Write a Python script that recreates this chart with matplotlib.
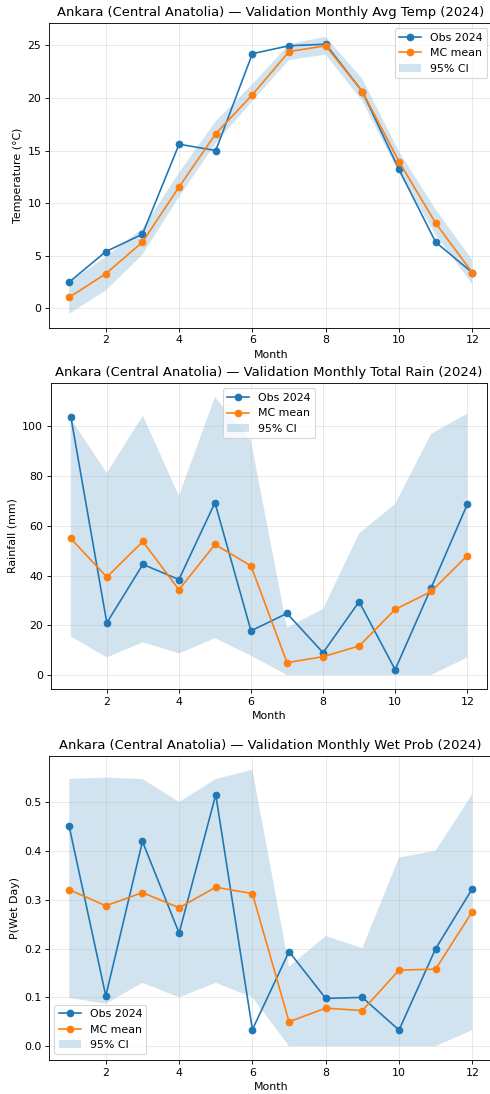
import numpy as np
import matplotlib
matplotlib.use("Agg")
import matplotlib.pyplot as plt

STATION = "Ankara (Central Anatolia)"
months = np.arange(1, 13)

# monthly average temperature (C)
temp_obs = [2.5, 5.4, 7.05, 15.6, 15.0, 24.2, 24.95, 25.1, 20.6, 13.2, 6.3, 3.4]
temp_mc = [1.05, 3.3, 6.3, 11.55, 16.6, 20.3, 24.4, 24.95, 20.6, 13.95, 8.1, 3.4]
temp_lo = [-0.5, 1.7, 5.1, 10.6, 15.7, 19.7, 23.6, 24.1, 19.7, 12.9, 7.0, 2.3]
temp_hi = [2.5, 4.9, 7.6, 12.9, 17.8, 21.3, 25.1, 25.8, 21.8, 14.9, 9.4, 4.6]

# monthly total rainfall (mm)
rain_obs = [103.9, 21.0, 44.5, 38.4, 69.3, 17.8, 24.8, 9.0, 29.5, 2.2, 35.1, 68.6]
rain_mc = [54.9, 39.4, 53.7, 34.3, 52.5, 43.9, 5.0, 7.4, 11.7, 26.4, 33.6, 48.0]
rain_lo = [15.5, 7.1, 13.2, 8.7, 14.8, 7.8, 0.0, 0.0, 0.0, 0.0, 0.0, 7.1]
rain_hi = [103.0, 81.2, 104.3, 72.0, 111.8, 94.0, 19.0, 26.6, 56.9, 68.8, 97.0, 105.1]

# probability of a wet day
wet_obs = [0.451, 0.103, 0.420, 0.232, 0.516, 0.034, 0.194, 0.098, 0.100, 0.033, 0.200, 0.323]
wet_mc = [0.321, 0.288, 0.315, 0.284, 0.326, 0.313, 0.050, 0.078, 0.073, 0.156, 0.158, 0.276]
wet_lo = [0.099, 0.087, 0.130, 0.100, 0.130, 0.100, 0.0, 0.0, 0.0, 0.0, 0.0, 0.033]
wet_hi = [0.548, 0.551, 0.548, 0.501, 0.548, 0.567, 0.163, 0.226, 0.201, 0.387, 0.401, 0.517]

panels = [
    ("Avg Temp", "Temperature (°C)", temp_obs, temp_mc, temp_lo, temp_hi, "upper right"),
    ("Total Rain", "Rainfall (mm)", rain_obs, rain_mc, rain_lo, rain_hi, "upper center"),
    ("Wet Prob", "P(Wet Day)", wet_obs, wet_mc, wet_lo, wet_hi, "lower left"),
]

# axes rectangles [left, bottom, width, height] in figure fractions
rects = [
    [0.100, 0.7006, 0.905, 0.2784],
    [0.104, 0.3702, 0.890, 0.2797],
    [0.100, 0.0311, 0.905, 0.2779],
]

DPI = 79
fig, axes = plt.subplots(3, 1, figsize=(490 / DPI, 1094 / DPI), dpi=DPI)
for ax, rect, (name, ylab, obs, mc, lo, hi, loc) in zip(axes, rects, panels):
    ax.set_position(rect)
    ax.plot(months, obs, marker="o", label="Obs 2024")
    ax.plot(months, mc, marker="o", label="MC mean")
    ax.fill_between(months, lo, hi, alpha=0.2, label="95% CI")
    ax.set_title(f"{STATION} — Validation Monthly {name} (2024)")
    ax.set_xlabel("Month")
    ax.set_ylabel(ylab)
    ax.grid(True, alpha=0.3)
    ax.legend(loc=loc)

fig.savefig("out.png")
